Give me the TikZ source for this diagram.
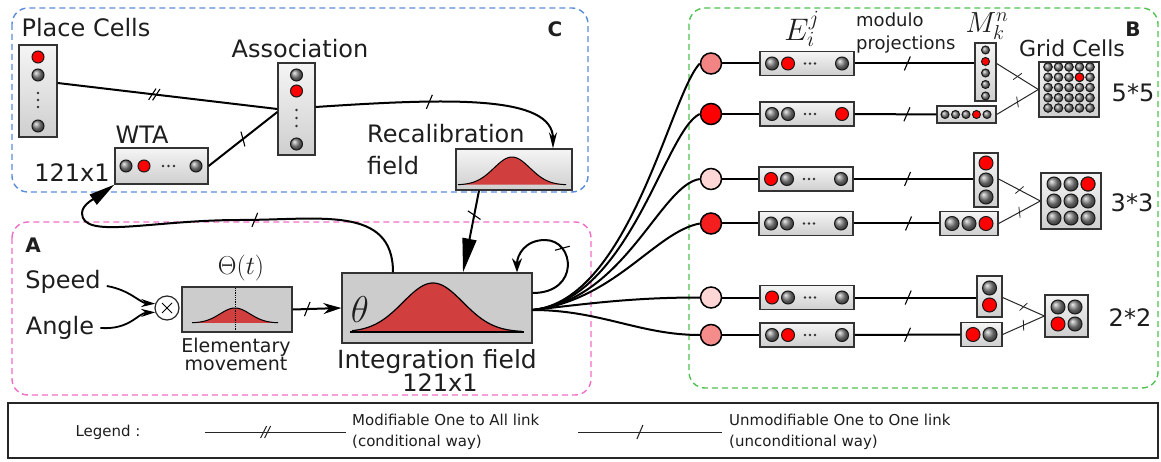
\documentclass[tikz,border=0pt]{standalone}
\usepackage{fontspec}
\setmainfont{DejaVu Sans}
\usetikzlibrary{arrows.meta,decorations.markings,shapes.geometric,calc}

\definecolor{cblue}{RGB}{90,140,215}
\definecolor{cpink}{RGB}{240,110,200}
\definecolor{cgreen}{RGB}{80,195,80}
\definecolor{gauss}{RGB}{208,62,62}
\definecolor{salmon}{RGB}{242,132,132}
\definecolor{lpink}{RGB}{255,214,214}
\definecolor{txt}{RGB}{30,30,30}

\newcommand\gdot[3]{\path[shade,ball color=gray!95,draw=black!90,line width=1pt] (#1,#2) circle (#3pt);}
\newcommand\rdot[3]{\path[fill=red,draw=black!90,line width=1pt] (#1,#2) circle (#3pt);}
\newcommand\sdot[2]{\fill[black!80] (#1,#2) circle (1.3pt);}

\tikzset{
 lbl/.style={text=txt, inner sep=0pt, font=\fontsize{24}{28}\selectfont},
 mth/.style={text=txt, inner sep=0pt, font=\fontsize{20}{24}\selectfont},
 ebox/.style={draw=black!80, line width=1.3pt, top color=gray!8, bottom color=gray!38, inner sep=0pt},
 fbox/.style={draw=black!80, line width=1.3pt, fill=gray!40, inner sep=0pt},
 link/.style={line width=2pt, black},
 thinlink/.style={line width=1pt, black!85},
 onetick/.style={postaction={decorate}, decoration={markings, mark=at position #1 with {\draw[line width=1.1pt,-] (-3pt,-7pt)--(3pt,7pt);}}},
 twotick/.style={postaction={decorate}, decoration={markings, mark=at position #1 with {\draw[line width=1.1pt,-] (-5pt,-6pt)--(1pt,6pt) (-1pt,-6pt)--(5pt,6pt);}}},
 smalltick/.style={postaction={decorate}, decoration={markings, mark=at position #1 with {\draw[line width=0.8pt,-] (-2pt,-5pt)--(2pt,5pt);}}},
 region/.style={dashed, dash pattern=on 6pt off 4pt, line width=1.4pt, rounded corners=16pt},
 bigc/.style={circle, draw=black, line width=1.5pt, minimum size=21pt, inner sep=0pt},
 reglbl/.style={text=txt, inner sep=0pt, font=\bfseries\fontsize{20}{24}\selectfont},
}

\begin{document}
\begin{tikzpicture}[x=1pt,y=-1pt]
\useasboundingbox (0,0) rectangle (1161,462);
\fill[white] (0,0) rectangle (1161,462);

% ---------- regions ----------
\draw[region,cblue] (12,8) rectangle (588,192);
\draw[region,cpink] (12,222) rectangle (591,395);
\draw[region,cgreen] (689,8) rectangle (1158,388);
\node[reglbl] (labC) at (555,29) {C};
\node[reglbl] (labA) at (33,245) {A};
\node[reglbl] (labB) at (1133,29) {B};

% ---------- region C ----------
\node[lbl] (pclab) at (86,28) {Place Cells};
\node[ebox,minimum width=38pt,minimum height=92pt] (pc) at (38,91) {};
\rdot{38}{57}{6} \gdot{38}{75}{6} \sdot{38}{93} \sdot{38}{100} \sdot{38}{107} \gdot{38}{126}{6}

\node[lbl] (aslab) at (300,49) {Association};
\node[ebox,minimum width=37pt,minimum height=92pt] (as) at (296.5,109) {};
\gdot{296.5}{75}{6} \rdot{296.5}{91}{6} \sdot{296.5}{110} \sdot{296.5}{118} \sdot{296.5}{126} \gdot{296.5}{144}{6}

\node[lbl] (wtalab) at (142,135) {WTA};
\node[ebox,minimum width=93pt,minimum height=36pt] (wta) at (161.5,166) {};
\gdot{126}{166}{6} \rdot{144}{166}{6} \sdot{163}{166} \sdot{168.5}{166} \sdot{174}{166} \gdot{196}{166}{6}
\node[lbl] (wtasize) at (72,173) {121x1};

\node[lbl,anchor=west] (reclab1) at (367,134) {Recalibration};
\node[lbl,anchor=west] (reclab2) at (367,166) {field};
\node[ebox,minimum width=116pt,minimum height=41pt] (rec) at (514,169.5) {};
\fill[gauss] plot[domain=458:566,samples=60] (\x,{185-28*exp(-((\x-512)^2)/648)}) -- cycle;
\draw[line width=1pt] plot[domain=458:566,samples=60] (\x,{185-28*exp(-((\x-512)^2)/648)});

% ---------- region A ----------
\node[lbl] (speed) at (63,282) {Speed};
\node[lbl] (angle) at (60,328) {Angle};
\node[circle,draw=black!85,line width=1.2pt,minimum size=24pt,inner sep=0pt,fill=white] (mul) at (167,308) {};
\draw[line width=1pt] ([shift={(-5pt,-5pt)}]mul.center) -- ([shift={(5pt,5pt)}]mul.center)
                      ([shift={(-5pt,5pt)}]mul.center) -- ([shift={(5pt,-5pt)}]mul.center);
\draw[link,line width=1.8pt,-{Stealth[length=14pt,width=8pt]}] ([xshift=6pt,yshift=-4pt]speed.east) .. controls (130,290) and (140,303) .. (mul.160);
\draw[link,line width=1.8pt,-{Stealth[length=14pt,width=8pt]}] ([xshift=6pt]angle.east) .. controls (130,330) and (138,313) .. (mul.200);

\node[mth,scale=1.25] (thetat) at (241,268) {$\Theta(t)$};
\node[fbox,minimum width=110pt,minimum height=45pt] (elem) at (237,309.5) {};
\fill[gauss] plot[domain=192:278,samples=50] (\x,{323-15*exp(-((\x-235)^2)/450)}) -- cycle;
\draw[line width=1pt] plot[domain=192:278,samples=50] (\x,{323-15*exp(-((\x-235)^2)/450)});
\draw[densely dotted,line width=0.8pt] (235,288) -- (235,331);
\node[lbl,font=\fontsize{19}{18}\selectfont,align=center] (elemlab) at (236,354) {Elementary\\movement};

\node[fbox,minimum width=190pt,minimum height=70pt] (int) at (437,308) {};
\fill[gauss] plot[domain=352:522,samples=80] (\x,{332-49*exp(-((\x-433)^2)/1800)}) -- cycle;
\draw[line width=1.2pt] plot[domain=352:522,samples=80] (\x,{332-49*exp(-((\x-433)^2)/1800)});
\draw[line width=1.2pt] (350,332) -- (524,332);
\node[mth,scale=1.8] (th) at (360,310) {$\theta$};
\node[lbl,font=\fontsize{25}{28}\selectfont] (intlab) at (437,362) {Integration field};
\node[lbl] (intsize) at (440,383) {121x1};

% connectors A / C
\draw[link,twotick=0.44] ([yshift=8pt]pc.east) -- (as.west);
\draw[link,onetick=0.5] (wta.east) -- ([yshift=-3pt]as.west);
\draw[link,onetick=0.44,-{Stealth[length=16pt,width=8pt]}] ([yshift=2pt]as.east) .. controls (450,98) and (553,95) .. ([xshift=39pt]rec.north);
\draw[link,onetick=0.3,-{Triangle[length=34pt,width=14pt]}] ([xshift=-35pt]rec.south) -- ([xshift=26pt]int.north);
\draw[link,onetick=0.3,-{Stealth[length=18pt,width=11pt]}] (elem.east) -- (int.west);
\draw[link,onetick=0.43,-{Triangle[length=26pt,width=12pt]}] ([xshift=-44pt]int.north) .. controls (393,205) and (320,220) .. (240,220) .. controls (150,220) and (82,240) .. (82,213) .. controls (82,204) and (97,197) .. (wta.south west);
\draw[link,onetick=0.5,-{Stealth[length=14pt,width=10pt]}] ([yshift=15pt]int.east) .. controls (580,293) and (575,240) .. (545,240) .. controls (525,240) and (517,255) .. ([xshift=80pt]int.north);

% ---------- region B ----------
\node[bigc,fill=salmon] (c1) at (711,63.5) {};
\node[bigc,fill=red] (c2) at (711,114) {};
\node[bigc,fill=lpink] (c3) at (711,179) {};
\node[bigc,fill={rgb,255:red,245;green,30;blue,30}] (c4) at (711,223.5) {};
\node[bigc,fill=lpink] (c5) at (711,297.5) {};
\node[bigc,fill={rgb,255:red,245;green,140;blue,140}] (c6) at (711,335) {};

\coordinate (fan) at ([yshift=-2pt]int.east);
\draw[link] (fan) .. controls (630,300) and (670,95) .. (c1.west);
\draw[link] (fan) .. controls (630,300) and (665,130) .. (c2.west);
\draw[link] (fan) .. controls (625,300) and (660,185) .. (c3.west);
\draw[link] (fan) .. controls (615,300) and (655,232) .. (c4.west);
\draw[link] (fan) .. controls (600,302) and (640,297.5) .. (c5.west);
\draw[link] (fan) .. controls (600,310) and (640,335) .. (c6.west);

% E boxes
\node[ebox,minimum width=94pt,minimum height=24pt] (e1) at (807,63.5) {};
\gdot{772}{63.5}{6.5} \rdot{788}{63.5}{6.5} \sdot{805}{63.5} \sdot{810}{63.5} \sdot{815}{63.5} \gdot{842}{63.5}{6.5}
\node[ebox,minimum width=94pt,minimum height=24pt] (e2) at (807,114) {};
\gdot{772}{114}{6.5} \gdot{788}{114}{6.5} \sdot{805}{114} \sdot{810}{114} \sdot{815}{114} \rdot{842}{114}{6.5}
\node[ebox,minimum width=94pt,minimum height=24pt] (e3) at (806,179) {};
\rdot{771}{179}{6.5} \gdot{787}{179}{6.5} \sdot{804}{179} \sdot{809}{179} \sdot{814}{179} \gdot{841}{179}{6.5}
\node[ebox,minimum width=94pt,minimum height=24pt] (e4) at (806,223.5) {};
\gdot{771}{223.5}{6.5} \gdot{787}{223.5}{6.5} \sdot{804}{223.5} \sdot{809}{223.5} \sdot{814}{223.5} \gdot{841}{223.5}{6.5}
\node[ebox,minimum width=94pt,minimum height=24pt] (e5) at (807,297.5) {};
\rdot{772}{297.5}{6.5} \gdot{788}{297.5}{6.5} \sdot{805}{297.5} \sdot{810}{297.5} \sdot{815}{297.5} \gdot{842}{297.5}{6.5}
\node[ebox,minimum width=94pt,minimum height=24pt] (e6) at (807,335) {};
\gdot{772}{335}{6.5} \rdot{788}{335}{6.5} \sdot{805}{335} \sdot{810}{335} \sdot{815}{335} \gdot{842}{335}{6.5}

\foreach \i in {1,...,6} {\draw[link] (c\i) -- (e\i);}

% M boxes
\node[ebox,minimum width=21pt,minimum height=58pt] (m1) at (985.5,72) {};
\gdot{985.5}{50}{4} \rdot{985.5}{61.5}{4} \gdot{985.5}{73}{4} \gdot{985.5}{84.5}{4} \gdot{985.5}{96}{4}
\node[ebox,minimum width=59pt,minimum height=17pt] (m2) at (966.5,114.5) {};
\gdot{945}{114.5}{4} \gdot{955.5}{114.5}{4} \gdot{966}{114.5}{4} \rdot{976.5}{114.5}{4} \gdot{987}{114.5}{4}
\node[ebox,minimum width=24pt,minimum height=54pt] (m3) at (986,180) {};
\rdot{986}{163}{7} \gdot{986}{180}{7} \gdot{986}{197}{7}
\node[ebox,minimum width=58pt,minimum height=24pt] (m4) at (969,223.5) {};
\gdot{952}{223.5}{7} \gdot{969}{223.5}{7} \rdot{986}{223.5}{7}
\node[ebox,minimum width=25pt,minimum height=41pt] (m5) at (989.5,296.5) {};
\gdot{989.5}{288}{7} \rdot{989.5}{305}{7}
\node[ebox,minimum width=41pt,minimum height=24pt] (m6) at (981.5,334.5) {};
\rdot{973}{334.5}{7} \gdot{990}{334.5}{7}

\draw[link,onetick=0.44] (e1.east) -- (e1.east -| m1.west);
\draw[link,onetick=0.64] (e2.east) -- (m2.west);
\draw[link,onetick=0.45] (e3.east) -- (e3.east -| m3.west);
\draw[link,onetick=0.64] (e4.east) -- (m4.west);
\draw[link,onetick=0.44] (e5.east) -- (e5.east -| m5.west);
\draw[link,onetick=0.5] (e6.east) -- (m6.west);

% Grids
\node[ebox,minimum width=60pt,minimum height=55pt] (g1) at (1069,89.5) {};
\foreach \a in {0,...,4} {\foreach \b in {0,...,4} {\gdot{1048+10.5*\a}{67+10.25*\b}{4.3}}}
\rdot{1079.5}{77.25}{4.3}
\node[ebox,minimum width=60pt,minimum height=56pt] (g2) at (1071,201) {};
\foreach \a in {0,1,2} {\foreach \b in {0,1,2} {\gdot{1054+17*\a}{184+17*\b}{7}}}
\rdot{1088}{184}{7}
\node[ebox,minimum width=43pt,minimum height=42pt] (g3) at (1066.5,316) {};
\gdot{1058}{307}{7} \gdot{1075}{307}{7} \gdot{1075}{324}{7} \rdot{1058}{324}{7}

\draw[thinlink,smalltick=0.5] (e1.east -| m1.east) -- (g1.west);
\draw[thinlink,smalltick=0.5] (m2.east) -- (g1.west);
\draw[thinlink,smalltick=0.5] (e3.east -| m3.east) -- (g2.west);
\draw[thinlink,smalltick=0.5] (m4.east) -- (g2.west);
\draw[thinlink,smalltick=0.5] (e5.east -| m5.east) -- (g3.west);
\draw[thinlink,smalltick=0.5] (m6.east) -- (g3.west);

% B labels
\node[mth,scale=1.5] (elab) at (802,29) {$E_i^j$};
\node[mth,scale=1.4] (mlab) at (987,26) {$M_k^n$};
\node[lbl,font=\fontsize{18}{23}\selectfont,align=left,anchor=west] (modlab) at (856,33) {modulo\\projections};
\node[lbl,font=\fontsize{22}{26}\selectfont] (gclab) at (1072,48) {Grid Cells};
\node[lbl] (s5) at (1133,93) {5*5};
\node[lbl] (s3) at (1132,203) {3*3};
\node[lbl] (s2) at (1130,318) {2*2};

% ---------- legend ----------
\node[draw=black!85,line width=1.8pt,minimum width=1150pt,minimum height=55pt,inner sep=0pt] (leg) at (583,430.5) {};
\node[lbl,font=\fontsize{15}{21}\selectfont] (legl) at (108,432) {Legend :};
\coordinate (l1a) at (205,432);
\coordinate (l1b) at (346,432);
\draw[line width=1pt,black!85,twotick=0.43] (l1a) -- (l1b);
\node[lbl,font=\fontsize{15}{21}\selectfont,align=left,anchor=west] (legt1) at (352,432) {Modifiable One to All link\\(conditional way)};
\coordinate (l2a) at (578,432);
\coordinate (l2b) at (722,432);
\draw[line width=1pt,black!85,onetick=0.43] (l2a) -- (l2b);
\node[lbl,font=\fontsize{15}{21}\selectfont,align=left,anchor=west] (legt2) at (729,432) {Unmodifiable One to One link\\(unconditional way)};
\end{tikzpicture}
\end{document}
